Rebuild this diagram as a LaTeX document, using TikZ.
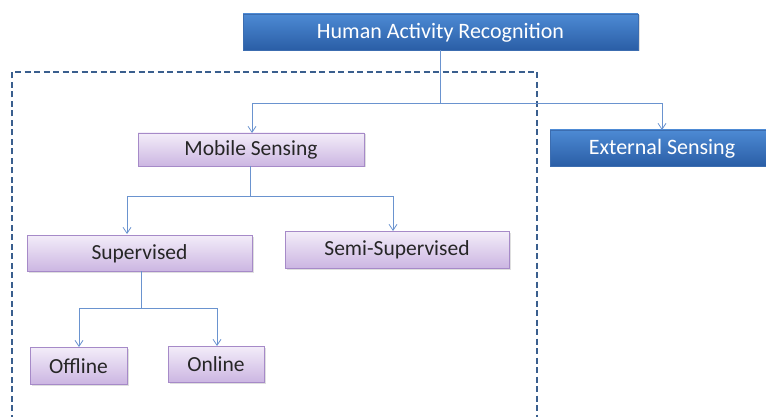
\documentclass[tikz,border=0pt]{standalone}
\usepackage{fontspec}
\setmainfont{Carlito}
\usetikzlibrary{arrows.meta,shadows}
\definecolor{linkc}{HTML}{6A93CF}
\definecolor{purtop}{HTML}{F3EDF9}
\definecolor{purbot}{HTML}{CCB6E2}
\definecolor{purdraw}{HTML}{A68AC8}
\definecolor{blutop}{HTML}{4D8AD4}
\definecolor{blubot}{HTML}{2A5EA6}
\definecolor{bludraw}{HTML}{3C6DB0}
\definecolor{dashc}{HTML}{3A5F8E}
\tikzset{
  x=1pt, y=-1pt,
  purbox/.style={draw=purdraw, line width=0.8pt, top color=purtop, bottom color=purbot,
    drop shadow={shadow xshift=1.5pt, shadow yshift=-1.5pt, opacity=0.25}},
  blubox/.style={draw=bludraw, line width=0.8pt, top color=blutop, bottom color=blubot,
    drop shadow={shadow xshift=1.5pt, shadow yshift=-1.5pt, opacity=0.25}},
  purtext/.style={font=\fontsize{21.5}{24}\selectfont, text=black!85},
  blutext/.style={font=\fontsize{22}{24}\selectfont, text=white},
  link/.style={draw=linkc, line width=0.8pt},
  arr/.style={link, -{Straight Barb[length=6pt,width=8pt]}},
}
\begin{document}
\begin{tikzpicture}
\useasboundingbox (0,0) rectangle (766,417);
% dashed frame
\draw[dashc, line width=1.6pt, dash pattern=on 6pt off 3.5pt] (12,430) -- (12,72) -- (537,72) -- (537,430);
% boxes
\path[blubox] (243,14) rectangle (638,50);
\node[blutext] (har) at (440.5,32.5) {Human Activity Recognition};
\path[blubox] (550,130) rectangle (770,166);
\node[blutext] (ext) at (662,148.5) {External Sensing};
\path[purbox] (138,133) rectangle (364,166);
\node[purtext] (mob) at (251,150) {Mobile Sensing};
\path[purbox] (27,235) rectangle (252,271);
\node[purtext] (sup) at (139.5,253.5) {Supervised};
\path[purbox] (285,231) rectangle (509,268);
\node[purtext] (semi) at (397,250) {Semi-Supervised};
\path[purbox] (30,347) rectangle (127,384);
\node[purtext] (off) at (78.5,366) {Offline};
\path[purbox] (168,346) rectangle (264,382);
\node[purtext] (on) at (216,364.5) {Online};
% anchors
\coordinate (harb) at (440,50);
\coordinate (j1) at (440,103);
\coordinate (mobt) at (252,133);
\coordinate (extt) at (662,130);
\coordinate (mobb) at (250,166);
\coordinate (j2) at (250,196);
\coordinate (supt) at (127,234);
\coordinate (semit) at (393,231);
\coordinate (supb) at (141,271);
\coordinate (j3) at (141,308);
\coordinate (offt) at (79,347);
\coordinate (ont) at (217,346);
% connectors
\draw[link] (harb) -- (j1);
\draw[arr] (j1) -| (mobt);
\draw[arr] (j1) -| (extt);
\draw[link] (mobb) -- (j2);
\draw[arr] (j2) -| (supt);
\draw[arr] (j2) -| (semit);
\draw[link] (supb) -- (j3);
\draw[arr] (j3) -| (offt);
\draw[arr] (j3) -| (ont);
\end{tikzpicture}
\end{document}
